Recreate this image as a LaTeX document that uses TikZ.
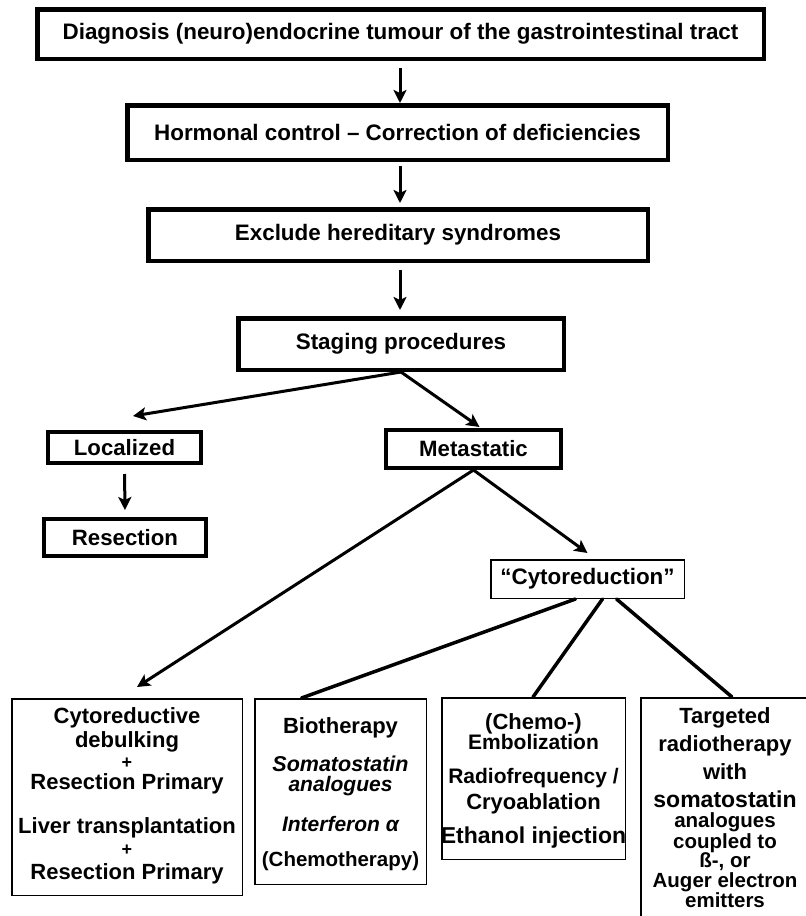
\documentclass[tikz,border=0pt]{standalone}
\usepackage{fontspec}
\setmainfont{Liberation Sans}
\usetikzlibrary{arrows.meta,calc}
\newcommand{\fsz}[1]{\fontsize{#1}{#1}\selectfont}
\tikzset{
  topbox/.style={draw, line width=4.5pt, inner sep=0pt, font=\bfseries\fontsize{22.4}{26}\selectfont},
  midbox/.style={draw, line width=4pt, inner sep=0pt, font=\bfseries\fontsize{22.2}{26}\selectfont},
  thinbox/.style={draw, line width=1.5pt, inner sep=0pt},
  bt/.style={anchor=base, inner sep=0pt, font=\bfseries\fontsize{22}{24}\selectfont},
  bti/.style={bt, font=\bfseries\itshape\fontsize{21}{24}\selectfont},
  plus/.style={bt, font=\bfseries\fsz{18}},
  arr/.style={line width=3pt, -{Stealth[length=13pt,width=13pt,inset=3pt]}},
  conn/.style={line width=3.5pt, line cap=round},
}
\begin{document}
\begin{tikzpicture}[x=1pt,y=-1pt]
\useasboundingbox (0,0) rectangle (806,916);
\clip (0,0) rectangle (806,916);
\fill[white] (0,0) rectangle (806,916);

\coordinate (ax) at (400,0);

\node[topbox, minimum width=726.5pt, minimum height=49.5pt] (b1) at (400.5,34) {Diagnosis (neuro)endocrine tumour of the gastrointestinal tract};
\node[topbox, minimum width=540.5pt, minimum height=54.5pt] (b2) at (397.5,132.5) {Hormonal control -- Correction of deficiencies};
\node[topbox, minimum width=499.5pt, minimum height=51.5pt] (b3) at (398,235) {Exclude hereditary syndromes};
\node[topbox, minimum width=325.5pt, minimum height=51.5pt] (b4) at (401,344) {Staging procedures};

\node[midbox, minimum width=153pt, minimum height=31pt] (loc) at (124.5,447.5) {Localized};
\node[midbox, minimum width=162pt, minimum height=37pt] (res) at (125,537.5) {Resection};
\node[midbox, minimum width=175pt, minimum height=38pt] (met) at (473.5,449) {Metastatic};
\node[thinbox, minimum width=193.5pt, minimum height=38.5pt, font=\bfseries\fontsize{22.4}{26}\selectfont] (cyto) at (587.5,579) {“Cytoreduction”};

\node[thinbox, minimum width=230.5pt, minimum height=196.5pt] (A) at (127,797) {};
\node[thinbox, minimum width=171.5pt, minimum height=185.5pt] (B) at (340.5,791.5) {};
\node[thinbox, minimum width=183.5pt, minimum height=161.5pt] (C) at (533.5,778.5) {};
\node[thinbox, minimum width=170.5pt, minimum height=236.5pt] (D) at (726,816) {};

% Box A text
\node[bt] (a1) at (127,723) {Cytoreductive};
\node[bt] (a2) at (127,747) {debulking};
\node[plus] (a3) at (127,768) {+};
\node[bt] (a4) at (127,789) {Resection Primary};
\node[bt] (a5) at (127,833) {Liver transplantation};
\node[plus] (a6) at (127,855) {+};
\node[bt] (a7) at (127,879) {Resection Primary};

% Box B text
\node[bt] (bb1) at (340.5,733) {Biotherapy};
\node[bti, font=\bfseries\itshape\fsz{21.5}] (bb2) at (340.5,771) {Somatostatin};
\node[bti] (bb3) at (340.5,791) {analogues};
\node[bti] (bb4) at (340.5,831) {Interferon α};
\node[bt, font=\bfseries\fsz{20.5}] (bb5) at (340.5,866) {(Chemotherapy)};

% Box C text
\node[bt] (c1) at (533.5,729) {(Chemo-)};
\node[bt, font=\bfseries\fsz{21}] (c2) at (533.5,749) {Embolization};
\node[bt, font=\bfseries\fsz{21}] (c3) at (533.5,783) {Radiofrequency /};
\node[bt] (c4) at (533.5,809) {Cryoablation};
\node[bt, font=\bfseries\fsz{23}] (c5) at (533.5,843) {Ethanol injection};

% Box D text
\node[bt] (d1) at (725,723) {Targeted};
\node[bt] (d2) at (725,751) {radiotherapy};
\node[bt] (d3) at (725,779) {with};
\node[bt, font=\bfseries\fsz{23}] (d4) at (725,807) {somatostatin};
\node[bt, font=\bfseries\fsz{20.5}] (d5) at (725,827) {analogues};
\node[bt, font=\bfseries\fsz{20.5}] (d6) at (725,848) {coupled to};
\node[bt, font=\bfseries\fsz{20.5}] (d7) at (725,867) {ß-, or};
\node[bt, font=\bfseries\fsz{20.5}] (d8) at (725,887) {Auger electron};
\node[bt, font=\bfseries\fsz{20.5}] (d9) at (725,907) {emitters};

% vertical arrows
\draw[arr, shorten <=7pt] (b1.south -| ax) -- (b2.north -| ax);
\draw[arr, shorten <=4pt, shorten >=4pt] (b2.south -| ax) -- (b3.north -| ax);
\draw[arr, shorten <=7pt, shorten >=6pt] (b3.south -| ax) -- (b4.north -| ax);
\draw[arr, shorten <=9pt, shorten >=7pt] (loc.south) -- (res.north);

% diagonal arrows
\draw[arr] (b4.south) -- ($(loc.north)+(8.5,-14)$);
\draw[arr] (b4.south) -- ($(met.north)+(6,-1)$);
\draw[arr] (met.south) -- ($(cyto.north)+(0,-6)$);
\draw[arr] (met.south) -- ($(A.north)+(10,-11)$);

% plain connectors
\draw[conn] ($(cyto.south)+(-12,0)$) -- ($(B.north)+(-39,0)$);
\draw[conn] ($(cyto.south)+(15,0)$) -- ($(C.north)+(-0.5,0)$);
\draw[conn] ($(cyto.south)+(29,0)$) -- ($(D.north)+(6,0)$);
\end{tikzpicture}
\end{document}
